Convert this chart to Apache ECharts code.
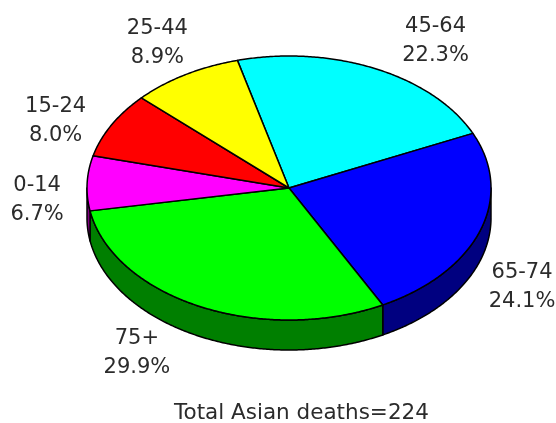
<!DOCTYPE html>
<html><head><meta charset="utf-8">
<script src="https://cdn.jsdelivr.net/npm/echarts@6/dist/echarts.min.js"></script>
<style>html,body{margin:0;padding:0;background:#fff}#c{width:556px;height:423px}</style>
</head><body><div id="c"></div>
<script>
// ---- data ----
const categories = ['45-64', '65-74', '75+', '0-14', '15-24', '25-44'];
const deaths = [50, 54, 67, 15, 18, 20];
const percentLabels = ['22.3%', '24.1%', '29.9%', '6.7%', '8.0%', '8.9%'];
const totalLabel = 'Total Asian deaths=224';

// ---- styles / layout ----
const topColors = ['#00FFFF', '#0000FF', '#00FF00', '#FF00FF', '#FF0000', '#FFFF00'];
const sideColors = ['#008080', '#000080', '#007F00', '#800080', '#800000', '#808000'];
const labelOffsets = [[60, -28], [42, 56], [-63, 47], [-50, 17], [-56, -4], [-28, -32]];
const geom = { cx: 289, cy: 188, rx: 202, ry: 132, depth: 30, start: -14.8 };
const FONT = '"DejaVu Sans", "Liberation Sans", Arial, sans-serif';
const TEXT_COLOR = '#2b2b2b';

const total = deaths.reduce((a, b) => a + b, 0);
function pt(t, dy) {
  const r = t * Math.PI / 180;
  return [geom.cx + geom.rx * Math.sin(r), geom.cy - geom.ry * Math.cos(r) + (dy || 0)];
}
function arc(a, b, dy) {
  const pts = [];
  const n = Math.max(2, Math.ceil(Math.abs(b - a) / 0.5));
  for (let k = 0; k <= n; k++) pts.push(pt(a + (b - a) * k / n, dy));
  return pts;
}

function renderItem(params, api) {
  const i = params.dataIndex;
  let before = 0;
  for (let k = 0; k < i; k++) before += deaths[k];
  const t1 = geom.start + before / total * 360;
  const t2 = t1 + api.value(0) / total * 360;
  const children = [];
  // side wall (front half: 90..270 deg clockwise from top)
  const a = Math.max(t1, 90), b = Math.min(t2, 270);
  if (b > a) {
    const pts = arc(a, b, 0).concat(arc(b, a, geom.depth));
    children.push({
      type: 'polygon', z2: 1,
      shape: { points: pts },
      style: { fill: sideColors[i], stroke: '#000', lineWidth: 1.5, lineJoin: 'round' }
    });
  }
  // top face
  const topPts = [[geom.cx, geom.cy]].concat(arc(t1, t2, 0));
  children.push({
    type: 'polygon', z2: 2,
    shape: { points: topPts },
    style: { fill: topColors[i], stroke: '#000', lineWidth: 1.5, lineJoin: 'round' }
  });
  // label
  const mid = (t1 + t2) / 2;
  const p = pt(mid, 0);
  children.push({
    type: 'text', z2: 3,
    x: p[0] + labelOffsets[i][0],
    y: p[1] + labelOffsets[i][1],
    style: {
      text: categories[i] + '\n' + percentLabels[i],
      fill: TEXT_COLOR,
      font: '21px ' + FONT,
      align: 'center',
      verticalAlign: 'middle',
      lineHeight: 29
    }
  });
  return { type: 'group', children: children };
}

const chart = echarts.init(document.getElementById('c'), null, { renderer: 'canvas' });
chart.setOption({
  backgroundColor: '#fff',
  animation: false,
  title: {
    text: totalLabel,
    left: 174,
    top: 402,
    padding: 0,
    textStyle: { fontFamily: FONT, fontSize: 21.5, fontWeight: 'normal', color: TEXT_COLOR }
  },
  series: [{
    type: 'custom',
    coordinateSystem: 'none',
    renderItem: renderItem,
    data: categories.map((c, i) => ({ name: c, value: [deaths[i]] }))
  }]
});
</script>
</body></html>
